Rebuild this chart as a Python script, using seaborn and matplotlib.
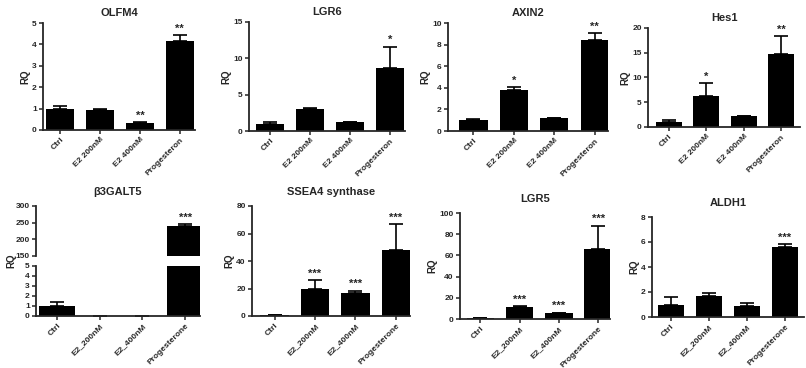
import matplotlib
matplotlib.use("Agg")
import matplotlib.pyplot as plt
import seaborn as sns
import numpy as np
import pandas as pd

sns.set_style("ticks")
plt.rcParams['font.family'] = ['Liberation Sans', 'DejaVu Sans']
plt.rcParams['font.weight'] = 'bold'

cats_top = ["Ctrl", "E2 200nM", "E2 400nM", "Progesteron"]
cats_bot = ["Ctrl", "E2_200nM", "E2_400nM", "Progesterone"]

olfm4 = [1.0, 0.93, 0.35, 4.15]
olfm4_err = [0.1, 0.05, 0.03, 0.3]
olfm4_sig = ["", "", "**", "**"]

lgr6 = [1.0, 3.0, 1.2, 8.7]
lgr6_err = [0.3, 0.2, 0.1, 2.9]
lgr6_sig = ["", "", "", "*"]

axin2 = [1.05, 3.8, 1.25, 8.45]
axin2_err = [0.05, 0.25, 0.0, 0.6]
axin2_sig = ["", "*", "", "**"]

hes1 = [1.0, 6.3, 2.2, 14.7]
hes1_err = [0.35, 2.6, 0.0, 3.6]
hes1_sig = ["", "*", "", "**"]

b3galt5 = [1.05, 0.0, 0.0, 240.0]
b3galt5_err = [0.4, 0.0, 0.0, 5.0]
b3galt5_sig = ["", "", "", "***"]

ssea4 = [1.0, 20.0, 16.5, 48.0]
ssea4_err = [0.0, 6.0, 2.0, 19.0]
ssea4_sig = ["", "***", "***", "***"]

lgr5 = [1.0, 11.5, 5.5, 66.5]
lgr5_err = [0.0, 1.0, 0.5, 21.5]
lgr5_sig = ["", "***", "***", "***"]

aldh1 = [1.0, 1.7, 0.9, 5.6]
aldh1_err = [0.6, 0.2, 0.2, 0.25]
aldh1_sig = ["", "", "", "***"]

W, H = 806, 368
fig = plt.figure(figsize=(W / 100, H / 100), dpi=100)

TICK_FS = 6
STAR_FS = 8


def px_axes(l, t, r, b):
    return fig.add_axes([l / W, 1 - b / H, (r - l) / W, (b - t) / H])


def style(ax):
    sns.despine(ax=ax)
    for s in ("left", "bottom"):
        ax.spines[s].set_linewidth(1.3)
    ax.tick_params(axis="both", width=1.1, length=3, labelsize=TICK_FS, pad=1.5)
    for lab in ax.get_yticklabels():
        lab.set_fontweight("bold")


def bars(ax, df, vals, errs, width):
    sns.barplot(data=df, x="cat", y="val", color="black", width=width,
                ax=ax, errorbar=None, saturation=1, edgecolor="black", linewidth=0)
    x = np.arange(len(vals))
    ax.errorbar(x, vals, yerr=[np.zeros(len(errs)), errs], fmt="none",
                ecolor="black", elinewidth=1.2, capsize=5, capthick=1.2)
    return x


def stars(ax, x, vals, errs, sig):
    for xi, v, e, s in zip(x, vals, errs, sig):
        if s:
            ax.annotate(s, (xi, v + e), xytext=(0, 1), textcoords="offset points",
                        ha="center", va="bottom", fontsize=STAR_FS, fontweight="bold")


def panel(box, title, cats, vals, errs, sig, ylim, yticks, xlim, width=0.7, title_pad=5):
    ax = px_axes(*box)
    df = pd.DataFrame({"cat": cats, "val": vals})
    x = bars(ax, df, vals, errs, width)
    stars(ax, x, vals, errs, sig)
    ax.set_ylim(*ylim)
    ax.set_yticks(yticks)
    ax.set_xlim(*xlim)
    ax.set_xlabel("")
    ax.set_ylabel("RQ", fontsize=7, fontweight="bold", labelpad=1.5)
    ax.set_xticks(x)
    ax.set_xticklabels(cats, rotation=45, ha="right", rotation_mode="anchor",
                       fontsize=TICK_FS, fontweight="bold")
    ax.set_title(title, fontsize=8, fontweight="bold", pad=title_pad)
    style(ax)
    return ax


panel((43, 23, 195, 130), "OLFM4", cats_top, olfm4, olfm4_err, olfm4_sig,
      (0, 5), range(0, 6), (-0.43, 3.38))
panel((249, 22, 405, 131), "LGR6", cats_top, lgr6, lgr6_err, lgr6_sig,
      (0, 15), [0, 5, 10, 15], (-0.53, 3.38))
panel((448, 23, 608, 131), "AXIN2", cats_top, axin2, axin2_err, axin2_sig,
      (0, 10), [0, 2, 4, 6, 8, 10], (-0.63, 3.33))
panel((648, 28, 800, 127), "Hes1", cats_top, hes1, hes1_err, hes1_sig,
      (0, 20), [0, 5, 10, 15, 20], (-0.55, 3.5))

panel((252, 206, 410, 316), "SSEA4 synthase", cats_bot, ssea4, ssea4_err, ssea4_sig,
      (0, 80), [0, 20, 40, 60, 80], (-0.56, 3.35), title_pad=8)
panel((460, 213, 610, 319), "LGR5", cats_bot, lgr5, lgr5_err, lgr5_sig,
      (0, 100), [0, 20, 40, 60, 80, 100], (-0.52, 3.3), title_pad=8)
panel((652, 217, 804, 317), "ALDH1", cats_bot, aldh1, aldh1_err, aldh1_sig,
      (0, 8), [0, 2, 4, 6, 8], (-0.5, 3.5), title_pad=8)

# broken-axis panel
df_b = pd.DataFrame({"cat": cats_bot, "val": b3galt5})
ax_top = px_axes(36, 206, 200, 256)
ax_bot = px_axes(36, 266, 200, 316)
for ax in (ax_top, ax_bot):
    xb = bars(ax, df_b, b3galt5, b3galt5_err, 0.85)
    ax.set_xlim(-0.5, 3.35)
    ax.set_xlabel("")
    ax.set_ylabel("")
    style(ax)
ax_top.set_ylim(150, 300)
ax_top.set_yticks([150, 200, 250, 300])
ax_top.spines["bottom"].set_visible(False)
ax_top.tick_params(axis="x", bottom=False, labelbottom=False)
ax_top.set_title("\u03b23GALT5", fontsize=8, fontweight="bold", pad=8)
stars(ax_top, xb, b3galt5, b3galt5_err, b3galt5_sig)
ax_bot.set_ylim(0, 5)
ax_bot.set_yticks(range(0, 6))
ax_bot.set_xticks(xb)
ax_bot.set_xticklabels(cats_bot, rotation=45, ha="right", rotation_mode="anchor",
                       fontsize=TICK_FS, fontweight="bold")
for ax in (ax_top, ax_bot):
    for lab in ax.get_yticklabels():
        lab.set_fontweight("bold")
fig.text(11 / W, 1 - 261 / H, "RQ", rotation=90, fontsize=7, fontweight="bold",
         ha="center", va="center")

fig.savefig("out.png", dpi=100)
